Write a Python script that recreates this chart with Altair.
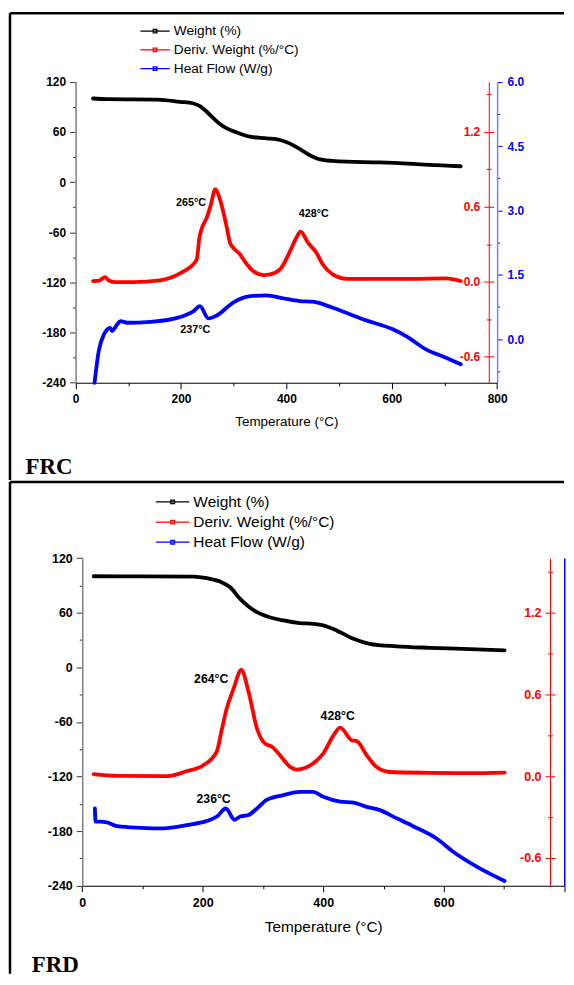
import altair as alt
import pandas as pd

SERIES = ["Weight (%)", "Deriv. Weight (%/°C)", "Heat Flow (W/g)"]
COLORS = ["#000000", "#ff0000", "#0000ff"]

# ---------------- FRC (top panel) ----------------
frc_w_temp = [33, 60, 110, 155, 198, 224, 236, 249, 262, 274, 287, 306, 331, 363, 388,
              406, 425, 450, 469, 488, 514, 577, 640, 671, 731]
frc_weight = [100.1, 99.3, 99.0, 98.8, 96.1, 94.1, 91.0, 84.2, 76.2, 69.5, 64.3, 59.5, 54.4,
              52.4, 50.4, 46.4, 39.7, 30.5, 26.6, 25.4, 24.5, 23.7, 21.8, 20.6, 19.0]
frc_d_temp = [33, 45, 56, 63, 75, 110, 160, 180, 200, 220, 230, 235, 240, 249, 257, 265, 275,
              287, 293, 299, 312, 325, 337, 356, 369, 388, 406, 419, 427, 441, 457, 469, 488,
              514, 577, 640, 703, 731]
frc_deriv = [0.006, 0.01, 0.038, 0.01, -0.003, -0.003, 0.011, 0.032, 0.072, 0.126, 0.179,
             0.353, 0.433, 0.513, 0.62, 0.74, 0.646, 0.433, 0.313, 0.273, 0.22, 0.14, 0.086,
             0.054, 0.059, 0.099, 0.235, 0.353, 0.401, 0.313, 0.233, 0.14, 0.059, 0.024,
             0.024, 0.024, 0.027, 0.006]
frc_h_temp = [36, 44, 54, 60, 66, 69, 79, 85, 98, 142, 198, 224, 236, 252, 268, 299, 331, 362,
              394, 425, 450, 488, 545, 602, 627, 665, 703, 731]
frc_heat = [-1.02, -0.28, 0.11, 0.226, 0.26, 0.186, 0.34, 0.42, 0.38, 0.40, 0.51, 0.65, 0.77,
            0.48, 0.55, 0.85, 1.0, 1.02, 0.95, 0.886, 0.87, 0.73, 0.46, 0.226, 0.07, -0.24,
            -0.435, -0.59]
frc_dtg_labels = ["265°C", "428°C"]
frc_dtg_label_t = [219, 452]
frc_dtg_label_v = [0.627, 0.539]
frc_hf_labels = ["237°C"]
frc_hf_label_t = [227]
frc_hf_label_v = [0.21]

# ---------------- FRD (bottom panel) ----------------
frd_w_temp = [19, 100, 185, 207, 229, 245.5, 262, 276, 290, 306, 334, 361, 383, 400, 422, 450,
              477, 521.5, 577, 632, 701]
frd_weight = [100, 99.8, 99.6, 97.8, 94.1, 87.9, 75.1, 66.8, 60.5, 56.1, 51.4, 48.5, 47.7, 46,
              40.5, 31.3, 25.8, 23, 21.4, 20.3, 18.6]
frd_d_temp = [19, 58, 141, 174, 201, 223, 232, 240, 251, 264, 276, 290, 303, 315, 328, 345,
              356, 383, 400, 417, 428, 447, 456, 472, 488, 510, 577, 640, 701]
frd_deriv = [0.015, 0.002, 0.0, 0.037, 0.08, 0.178, 0.35, 0.5, 0.64, 0.78, 0.62, 0.35, 0.24,
             0.215, 0.154, 0.068, 0.048, 0.092, 0.166, 0.3, 0.356, 0.264, 0.256, 0.154, 0.068,
             0.03, 0.024, 0.022, 0.026]
frd_h_temp = [21, 22, 30, 41, 58, 96.5, 135, 174, 207, 223.5, 238.4, 252.6, 262, 276, 290, 306,
              334, 361, 383, 400, 428, 450, 472, 494, 521.5, 549, 588, 615, 659, 701]
frd_heat = [1.33, 1.084, 1.084, 1.07, 1.0, 0.97, 0.96, 1.02, 1.10, 1.18, 1.33, 1.12, 1.18, 1.21,
            1.33, 1.49, 1.58, 1.64, 1.64, 1.55, 1.46, 1.44, 1.36, 1.30, 1.15, 1.0, 0.77, 0.53,
            0.22, -0.02]
frd_dtg_labels = ["264°C", "428°C"]
frd_dtg_label_t = [214, 424]
frd_dtg_label_v = [0.711, 0.44]
frd_hf_labels = ["236°C"]
frd_hf_label_t = [218]
frd_hf_label_v = [1.5]

# ---------------- ticks ----------------
X_TICKS = list(range(0, 801, 100))
LEFT_TICKS = list(range(-240, 121, 30))
RED_TICKS = [-0.6, -0.3, 0.0, 0.3, 0.6, 0.9, 1.2, 1.5]
BLUE_TICKS_1 = [-0.75, 0.0, 0.75, 1.5, 2.25, 3.0, 3.75, 4.5, 5.25, 6.0]
BLUE_TICKS_2 = [0.0, 0.75, 1.5, 2.25, 3.0, 3.75, 4.5, 5.25, 6.0]

FONT = "Liberation Sans"
W = 555.5
BORDER = 2.5


def panel(g, wt, w, dt, d, ht, h, dl, dlt, dlv, hl, hlt, hlv):
    xs = alt.Scale(domain=[0, 800], range=[g["x0"], g["x1"]], nice=False)
    yr = [g["yb"], g["yt"]]
    lfs = g["lfs"]
    x_axis = alt.Axis(
        orient="bottom", offset=g["xoff"], values=X_TICKS, minExtent=0,
        labelExpr=f"datum.value % 200 == 0 && datum.value <= {g['xlabmax']} ? '' + datum.value : ''",
        tickSize={"condition": {"test": "datum.value % 200 == 0", "value": 6}, "value": 3},
        domainColor="#000000", tickColor="#000000", labelColor="#000000",
        labelFont=FONT, labelFontSize=lfs, labelFontWeight="bold", labelPadding=4.5,
        labelFlush=False, labelOverlap=False, grid=False,
        title="Temperature (°C)", titleFont=FONT, titleFontSize=g["tfs"],
        titleFontWeight="normal", titleColor="#000000", titlePadding=g["tpad"])
    X = alt.X("T:Q", scale=xs, axis=x_axis)

    left_axis = alt.Axis(
        orient="left", offset=g["loff"], values=LEFT_TICKS, minExtent=0,
        labelExpr="datum.value % 60 == 0 ? (datum.value < 0 ? '-' : '') + abs(datum.value) : ''",
        tickSize={"condition": {"test": "datum.value % 60 == 0", "value": 6}, "value": 3},
        domainColor="#808080", domainWidth=1.5, tickColor="#333333", labelColor="#000000",
        labelFont=FONT, labelFontSize=lfs, labelFontWeight="bold", labelPadding=4,
        labelOverlap=False, grid=False, title=None)
    major_red = "abs(round(datum.value*10)) % 6 == 0"
    red_axis = alt.Axis(
        orient="left", offset=g["roff_l"], values=RED_TICKS, minExtent=0,
        labelExpr=major_red + " ? (datum.value < 0 ? '-' : '') + format(abs(datum.value), '.1f') : ''",
        tickSize={"condition": {"test": major_red, "value": 5}, "value": 2.5},
        domainColor="#ff0000", tickColor="#ff0000", labelColor="#ff0000",
        labelFont=FONT, labelFontSize=lfs, labelFontWeight="bold", labelPadding=4,
        labelOverlap=False, grid=False, title=None)
    red_axis_r = alt.Axis(
        orient="right", offset=g["roff_r"], values=RED_TICKS, labels=False, domain=False,
        minExtent=0,
        tickSize={"condition": {"test": major_red, "value": 5}, "value": 2.5},
        tickColor="#ff0000", grid=False, title=None)
    major_blue = "round(datum.value*4) % 6 == 0"
    blue_axis = alt.Axis(
        orient="right", offset=g["boff"], values=g["bticks"], labels=g["blabels"],
        ticks=g["bticks_on"], minExtent=0,
        labelExpr=major_blue + " ? format(datum.value, '.1f') : ''",
        tickSize={"condition": {"test": major_blue, "value": 5}, "value": 2.5},
        domainColor=g["bdom"], domainWidth=1.5, tickColor="#0000ff", labelColor="#0000ff",
        labelFont=FONT, labelFontSize=lfs, labelFontWeight="bold", labelPadding=5,
        labelOverlap=False, grid=False, title=None)

    a = g["lhalf"]
    sym = f"M-{a},0H{a}M-0.3,-0.3H0.3V0.3H-0.3Z"
    legend = alt.Legend(
        orient="none", legendX=g["lx"], legendY=g["ly"], title=None, symbolType=sym,
        symbolSize=144, symbolStrokeWidth=1.3, labelFont=FONT,
        labelFontSize=g["legfs"], labelColor="#000000", rowPadding=g["lrp"], padding=0,
        labelOffset=g["loffs"], labelLimit=400)
    color = alt.Color("series:N", scale=alt.Scale(domain=SERIES, range=COLORS), legend=legend)

    line_kw = dict(strokeWidth=3.8, interpolate="monotone", strokeCap="round", strokeJoin="round")
    red_scale = alt.Scale(domain=g["rdom"], range=yr, nice=False, zero=False)
    blue_scale = alt.Scale(domain=g["bdomain"], range=yr, nice=False, zero=False)

    df_w = pd.DataFrame({"T": wt, "v": w, "series": SERIES[0]})
    df_d = pd.DataFrame({"T": dt, "v": d, "series": SERIES[1]})
    df_h = pd.DataFrame({"T": ht, "v": h, "series": SERIES[2]})
    df_dl = pd.DataFrame({"T": dlt, "v": dlv, "txt": dl})
    df_hl = pd.DataFrame({"T": hlt, "v": hlv, "txt": hl})
    one = pd.DataFrame({"k": [0]})

    # panel frame: left and top border lines
    frame_left = alt.Chart(one).mark_rule(color="#000000", strokeWidth=BORDER).encode(
        x=alt.value(0), y=alt.value(0), y2=alt.value(g["H"]))
    frame_top = alt.Chart(one).mark_rule(color="#000000", strokeWidth=BORDER).encode(
        x=alt.value(0), x2=alt.value(W), y=alt.value(0))

    lw = alt.Chart(df_w).mark_line(**line_kw).encode(
        x=X, y=alt.Y("v:Q", scale=alt.Scale(domain=[-240, 120], range=yr, nice=False, zero=False),
                     axis=left_axis), color=color)
    ld = alt.Chart(df_d).mark_line(**line_kw).encode(
        x=X, y=alt.Y("v:Q", scale=red_scale, axis=red_axis), color=color)
    lh = alt.Chart(df_h).mark_line(**line_kw).encode(
        x=X, y=alt.Y("v:Q", scale=blue_scale, axis=blue_axis), color=color)
    ldr = alt.Chart(df_d).mark_line(strokeOpacity=0).encode(
        x=X, y=alt.Y("v:Q", scale=red_scale, axis=red_axis_r))
    txt_kw = dict(font=FONT, fontWeight="bold", fontSize=g["afs"], color="#000000",
                  align="center", baseline="middle")
    td = alt.Chart(df_dl).mark_text(**txt_kw).encode(
        x=X, y=alt.Y("v:Q", scale=red_scale, axis=None), text="txt:N")
    th = alt.Chart(df_hl).mark_text(**txt_kw).encode(
        x=X, y=alt.Y("v:Q", scale=blue_scale, axis=None), text="txt:N")

    return alt.layer(lw, ld, lh, ldr, td, th, frame_left, frame_top).resolve_scale(
        y="independent").properties(
        width=W, height=g["H"],
        title=alt.TitleParams(g["name"], orient="bottom", anchor="start", frame="group",
                              offset=g["toff"], dx=g["tdx"], font="Liberation Serif",
                              fontSize=23, fontWeight="bold", color="#000000",
                              baseline="alphabetic"))


g1 = dict(name="FRC", H=468, x0=65.75, x1=488.45, yb=370.45, yt=68.75, xlabmax=800,
          xoff=-97.55, loff=-65.75, roff_l=-480.05, roff_r=-(W - 480.05), boff=-(W - 488.45),
          rdom=[-0.808, 1.6], bdomain=[-1.02, 6.0], bticks=BLUE_TICKS_1, blabels=True,
          bticks_on=True,
          bdom="#8080ff", lfs=12, tfs=13.5, tpad=10, afs=10.8,
          lhalf=2.45, lx=138.45, ly=10.9, legfs=13.7, lrp=4.8, loffs=11.8,
          toff=-7.7, tdx=15.6)
H2 = 493
g2 = dict(name="FRD", H=H2, x0=72.45, x1=555.75, yb=404.8, yt=76.2, xlabmax=600,
          xoff=-(H2 - 404.8), loff=-72.45, roff_l=-541.45, roff_r=-(W - 541.45),
          boff=-(W - 555.75),
          rdom=[-0.806, 1.603], bdomain=[-0.11, 6.0], bticks=BLUE_TICKS_2, blabels=False,
          bticks_on=False,
          bdom="#0000ff", lfs=12.5, tfs=15.4, tpad=10.5, afs=12.3,
          lhalf=2.8, lx=155.35, ly=12.2, legfs=15.5, lrp=3.2, loffs=13.0,
          toff=-3.25, tdx=21.75)

p1 = panel(g1, frc_w_temp, frc_weight, frc_d_temp, frc_deriv, frc_h_temp, frc_heat,
           frc_dtg_labels, frc_dtg_label_t, frc_dtg_label_v, frc_hf_labels, frc_hf_label_t,
           frc_hf_label_v)
p2 = panel(g2, frd_w_temp, frd_weight, frd_d_temp, frd_deriv, frd_h_temp, frd_heat,
           frd_dtg_labels, frd_dtg_label_t, frd_dtg_label_v, frd_hf_labels, frd_hf_label_t,
           frd_hf_label_v)

chart = alt.vconcat(p1, p2, spacing=-2.25).resolve_scale(
    x="independent", y="independent", color="independent"
).resolve_legend(color="independent").configure_view(
    stroke=None
).properties(
    padding={"left": 0, "top": 2, "right": 0, "bottom": 0}, background="white"
)

chart.save("out.html", embed_options={"renderer": "svg", "actions": False})
